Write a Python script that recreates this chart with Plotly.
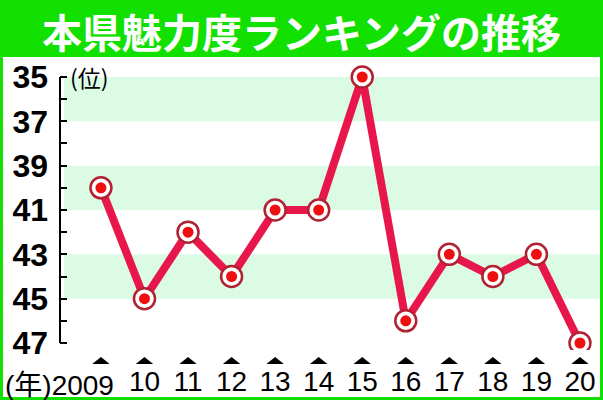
import plotly.graph_objects as go

# 本県の魅力度ランキング（位）
years = [2009, 2010, 2011, 2012, 2013, 2014, 2015, 2016, 2017, 2018, 2019, 2020]
ranks = [40, 45, 42, 44, 41, 41, 35, 46, 43, 44, 43, 47]
year_labels = ["2009", "10", "11", "12", "13", "14", "15", "16", "17", "18", "19", "20"]
rank_ticks = [35, 37, 39, 41, 43, 45, 47]
band_starts = [35, 39, 43]

green = "#11E000"
band_green = "#DCFBE4"
line_red = "#E8174B"

fig = go.Figure()

fig.add_trace(go.Scatter(
    x=years, y=ranks, mode="lines+markers",
    line=dict(color=line_red, width=8),
    marker=dict(size=21, color="white", line=dict(color="#B02232", width=2.5)),
    hoverinfo="skip", showlegend=False,
))
fig.add_trace(go.Scatter(
    x=years, y=ranks, mode="markers",
    marker=dict(size=11, color="#EE1010"),
    hoverinfo="skip", showlegend=False,
))

shapes = []
# white panel inside green frame
shapes.append(dict(type="rect", xref="paper", yref="paper",
                   x0=-0.1056, x1=1.0, y0=-0.1604, y1=1.0,
                   fillcolor="white", line_width=0, layer="below"))
for b in band_starts:
    shapes.append(dict(type="rect", xref="paper", yref="y",
                       x0=0.0074, x1=1.0, y0=b, y1=b + 2,
                       fillcolor=band_green, line_width=0, layer="below"))
# y axis line only between first and last rank
shapes.append(dict(type="line", xref="paper", yref="y",
                   x0=0, x1=0, y0=rank_ticks[0], y1=rank_ticks[-1],
                   line=dict(color="black", width=2)))
# small triangles above year labels
for yr in years:
    shapes.append(dict(type="path", xref="x", yref="paper",
                       path=f"M {yr - 0.2},-0.048 L {yr + 0.2},-0.048 L {yr},-0.024 Z",
                       fillcolor="black", line_width=0))

fig.update_layout(
    width=603, height=400,
    margin=dict(l=60, r=3, t=57, b=50, autoexpand=False),
    paper_bgcolor=green, plot_bgcolor="white",
    shapes=shapes,
    title=dict(text="本県魅力度ランキングの推移", x=0.5, xref="container",
               y=0.915, yref="container", yanchor="middle", xanchor="center",
               font=dict(family="Noto Sans CJK JP", size=40, color="white", weight="bold")),
    xaxis=dict(range=[2008.06, 2020.46], tickvals=years,
               ticktext=[""] + year_labels[1:], automargin=False,
               showgrid=False, zeroline=False, showline=False, ticks="",
               ticklabelstandoff=12,
               tickfont=dict(family="Liberation Sans, Arial", size=28, color="black")),
    yaxis=dict(range=[47.316, 34.098], tickvals=rank_ticks, automargin=False,
               showgrid=False, zeroline=False, showline=False,
               ticks="inside", ticklen=7, tickwidth=2, tickcolor="black",
               minor=dict(tick0=35, dtick=1, ticks="inside", ticklen=7,
                          tickwidth=2, tickcolor="black", showgrid=False),
               ticklabelstandoff=11,
               tickfont=dict(family="Liberation Sans, Arial", size=32,
                             color="black", weight="bold")),
    annotations=[
        dict(text="(位)", xref="paper", yref="y", x=0.015, y=rank_ticks[0],
             xanchor="left", yanchor="middle", showarrow=False,
             font=dict(family="Noto Sans CJK JP", size=23, color="black")),
        dict(text="(年)" + year_labels[0], xref="x", yref="paper", x=years[0],
             y=-0.06, xanchor="right", yanchor="top", xshift=15, showarrow=False,
             font=dict(family="Liberation Sans, Noto Sans CJK JP", size=28, color="black")),
    ],
)

fig.write_html("out.html", config={"displayModeBar": False},
               post_script="document.body.style.margin='0';")
